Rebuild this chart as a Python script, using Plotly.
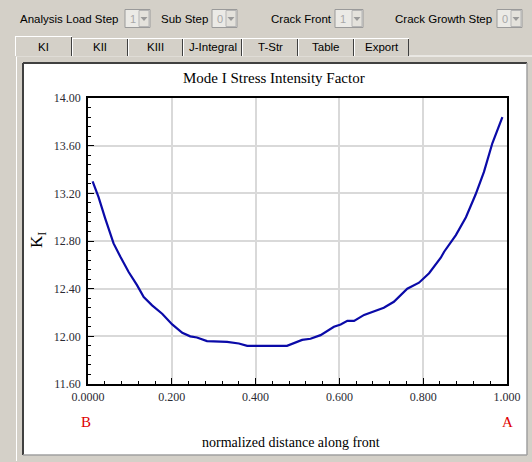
import plotly.graph_objects as go

# ---- data ----
dist = [0.011, 0.025, 0.041, 0.061, 0.077, 0.097, 0.117, 0.133, 0.153, 0.177,
        0.201, 0.225, 0.244, 0.260, 0.284, 0.332, 0.360, 0.380, 0.475, 0.491,
        0.511, 0.531, 0.555, 0.587, 0.603, 0.619, 0.635, 0.659, 0.682, 0.706,
        0.730, 0.762, 0.790, 0.814, 0.842, 0.850, 0.878, 0.902, 0.925, 0.945,
        0.965, 0.989]
ki = [13.30, 13.17, 12.99, 12.78, 12.67, 12.54, 12.43, 12.33, 12.26, 12.19,
      12.10, 12.03, 12.00, 11.99, 11.96, 11.953, 11.94, 11.92, 11.92, 11.94,
      11.97, 11.98, 12.01, 12.08, 12.10, 12.13, 12.13, 12.18, 12.21, 12.24,
      12.29, 12.40, 12.45, 12.53, 12.66, 12.71, 12.85, 13.00, 13.19, 13.38,
      13.62, 13.84]

x_ticks = [0.0, 0.2, 0.4, 0.6, 0.8, 1.0]
x_tick_labels = ["0.0000", "0.200", "0.400", "0.600", "0.800", "1.000"]
y_ticks = [11.6, 12.0, 12.4, 12.8, 13.2, 13.6, 14.0]
y_tick_labels = ["11.60", "12.00", "12.40", "12.80", "13.20", "13.60", "14.00"]

title = "Mode I Stress Intensity Factor"
x_title = "normalized distance along front"
tabs = ["KI", "KII", "KIII", "J-Integral", "T-Str", "Table", "Export"]
toolbar = [("Analysis Load Step", "1"), ("Sub Step", "0"),
           ("Crack Front", "1"), ("Crack Growth Step", "0")]

# ---- layout geometry (pixels) ----
W, H = 532, 462
L, R, T, B = 88, 507, 98, 384


def px(x):
    return (x - L) / (R - L)


def py(y):
    return (B - y) / (B - T)


SANS = "Liberation Sans, Arial, sans-serif"
SERIF = "Liberation Serif, Times New Roman, serif"
GRAY = "#d4d0c8"

shapes = []
ann = []


def rect(x0, y0, x1, y1, fill=None, line=None, lw=1, layer="below"):
    shapes.append(dict(type="rect", xref="paper", yref="paper",
                       x0=px(x0), x1=px(x1), y0=py(y0), y1=py(y1),
                       fillcolor=fill or "rgba(0,0,0,0)",
                       line=dict(color=line or "rgba(0,0,0,0)", width=lw if line else 0),
                       layer=layer))


def hline(x0, x1, y, color, lw=1, layer="below"):
    shapes.append(dict(type="line", xref="paper", yref="paper",
                       x0=px(x0), x1=px(x1), y0=py(y), y1=py(y),
                       line=dict(color=color, width=lw), layer=layer))


def vline(x, y0, y1, color, lw=1, layer="below"):
    shapes.append(dict(type="line", xref="paper", yref="paper",
                       x0=px(x), x1=px(x), y0=py(y0), y1=py(y1),
                       line=dict(color=color, width=lw), layer=layer))


def tri(cx, cy, color):
    path = "M {} {} L {} {} L {} {} Z".format(px(cx - 3.5), py(cy - 2), px(cx + 3.5), py(cy - 2),
                                             px(cx), py(cy + 2))
    shapes.append(dict(type="path", xref="paper", yref="paper", path=path,
                       fillcolor=color, line=dict(width=0), layer="below"))


def text(x, y, s, size=12, color="#000", family=SANS, xanchor="center", angle=0):
    ann.append(dict(x=px(x), y=py(y), xref="paper", yref="paper", text=s,
                    showarrow=False, xanchor=xanchor, yanchor="middle",
                    textangle=angle, font=dict(size=size, color=color, family=family)))


# tab content panel border
vline(16.5, 56, 461, "#ffffff")
hline(16.5, 532, 56, "#ffffff")
# white chart panel
rect(23, 63, 527, 455, fill="#ffffff")
vline(23, 63, 455, "#404040", 2)
hline(23, 527, 63, "#404040", 2)
vline(527, 63, 455, "#a0a0a0", 1.5)
hline(23, 527, 455, "#a0a0a0", 1.5)

# toolbar
tb_pos = [(18, 125, 150), (159, 212, 237), (269, 335, 363), (393, 497, 522)]
for (label, val), (tx, c0, c1) in zip(toolbar, tb_pos):
    text(tx, 19, label, size=11.5, xanchor="left")
    rect(c0, 9.5, c1, 27.5, fill="#ebeae6", line="#9a9a9a")
    rect(c1 - 11, 10.5, c1 - 1, 26.5, fill="#e4e2dc", line="#b5b5b5")
    text(c0 + 3, 19, val, size=11, color="#a8a8a8", xanchor="left")
    tri(c1 - 6, 19, "#9a9a9a")

# tabs
tab_edges = [15, 72, 128, 183, 242, 298, 354, 409]
for i, name in enumerate(tabs):
    x0, x1 = tab_edges[i], tab_edges[i + 1]
    y0 = 36 if i == 0 else 38
    rect(x0, y0, x1, 56.5, fill=GRAY)
    vline(x0 + 0.5, y0, 56, "#ffffff")
    vline(x1 - 0.5, y0, 56, "#404040")
    hline(x0, x1, y0 + 0.5, "#ffffff")
    text((x0 + x1) / 2, 47, name, size=11.5)

# chart labels
text(274, 78, title, size=15, family=SERIF)
text(291, 442, x_title, size=14, family=SERIF)
text(86, 422, "B", size=15, color="#e00000", family=SERIF)
text(507, 422, "A", size=15, color="#e00000", family=SERIF)
text(38, 240, "K<sub>I</sub>", size=17, family=SERIF, angle=-90)

fig = go.Figure(go.Scatter(x=dist, y=ki, mode="lines",
                           line=dict(color="#0a0aa8", width=2.2), hoverinfo="skip"))

axis_common = dict(showline=True, linecolor="#000", linewidth=1.5, mirror=True,
                   ticks="inside", ticklen=6, tickcolor="#000", tickwidth=1,
                   gridcolor="#d9d9d9", gridwidth=1.5, zeroline=False,
                   tickfont=dict(family=SERIF, size=12, color="#2a2a33"))

fig.update_layout(
    width=W, height=H,
    margin=dict(l=L, r=W - R, t=T, b=H - B, pad=0),
    paper_bgcolor=GRAY, plot_bgcolor="#ffffff",
    showlegend=False,
    shapes=shapes, annotations=ann,
    xaxis=dict(range=[0, 1], tickvals=x_ticks, ticktext=x_tick_labels,
               minor=dict(dtick=0.04, ticks="inside", ticklen=3, tickcolor="#000", showgrid=False),
               ticklabelstandoff=1, **axis_common),
    yaxis=dict(range=[11.6, 14.0], tickvals=y_ticks, ticktext=y_tick_labels,
               minor=dict(dtick=0.08, ticks="inside", ticklen=3, tickcolor="#000", showgrid=False),
               ticklabelstandoff=3, **axis_common),
)

fig.write_html("out.html", config={"displayModeBar": False},
               post_script="document.body.style.margin='0';document.body.style.overflow='hidden';")
